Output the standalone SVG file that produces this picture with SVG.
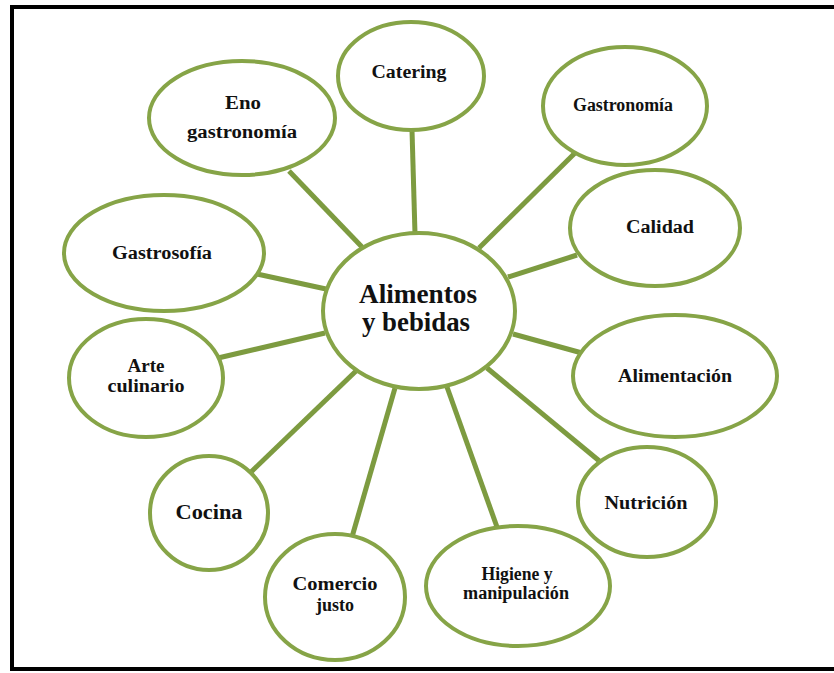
<svg xmlns="http://www.w3.org/2000/svg" width="834" height="673" viewBox="0 0 834 673">
<style>
.n{fill:#fff;stroke:#86a447;stroke-width:4}
.c line{stroke:#7d9b40;stroke-width:5;stroke-linecap:butt}
text{font-family:"Liberation Serif","Times New Roman",serif;font-weight:bold;fill:#111;text-anchor:middle}
.t{font-size:18px}
</style>
<rect x="0" y="0" width="834" height="673" fill="#fff"/>
<path d="M845 7H12V669H845" fill="none" stroke="#000" stroke-width="4"/>
<g class="c" id="connectors">
<line x1="412" y1="130" x2="415" y2="234"/>
<line x1="289" y1="171" x2="362" y2="247"/>
<line x1="576" y1="152" x2="479" y2="248"/>
<line x1="577" y1="255" x2="508" y2="277"/>
<line x1="257" y1="274" x2="326" y2="289"/>
<line x1="218" y1="358" x2="325" y2="333"/>
<line x1="513" y1="334" x2="582" y2="353"/>
<line x1="487" y1="368" x2="603" y2="464"/>
<line x1="356" y1="371" x2="251" y2="472"/>
<line x1="395" y1="388" x2="352" y2="537"/>
<line x1="447" y1="387" x2="497" y2="527"/>
</g>
<g id="catering"><ellipse class="n" cx="411" cy="76" rx="73" ry="54"/><text class="t" x="409" y="78" textLength="75" lengthAdjust="spacingAndGlyphs">Catering</text></g>
<g id="enogastronomia"><ellipse class="n" cx="242" cy="118" rx="93" ry="57"/><text class="t" x="243" y="109" textLength="36" lengthAdjust="spacingAndGlyphs">Eno</text><text class="t" x="242" y="138" textLength="110" lengthAdjust="spacingAndGlyphs">gastronomía</text></g>
<g id="gastronomia"><ellipse class="n" cx="625" cy="106" rx="82" ry="59"/><text class="t" x="623" y="111" textLength="100" lengthAdjust="spacingAndGlyphs">Gastronomía</text></g>
<g id="calidad"><ellipse class="n" cx="655" cy="228" rx="85" ry="58"/><text class="t" x="660" y="233" textLength="68" lengthAdjust="spacingAndGlyphs">Calidad</text></g>
<g id="gastrosofia"><ellipse class="n" cx="164" cy="253" rx="100" ry="58"/><text class="t" x="162" y="259" textLength="100" lengthAdjust="spacingAndGlyphs">Gastrosofía</text></g>
<g id="central"><ellipse class="n" cx="419" cy="311" rx="96" ry="78"/><text x="418" y="303" font-size="27" textLength="118" lengthAdjust="spacingAndGlyphs">Alimentos</text><text x="416" y="331" font-size="27" textLength="108" lengthAdjust="spacingAndGlyphs">y bebidas</text></g>
<g id="arte"><ellipse class="n" cx="146" cy="378" rx="77" ry="59"/><text class="t" x="146" y="372" textLength="37" lengthAdjust="spacingAndGlyphs">Arte</text><text class="t" x="146" y="392" textLength="77" lengthAdjust="spacingAndGlyphs">culinario</text></g>
<g id="alimentacion"><ellipse class="n" cx="675" cy="376" rx="102" ry="61"/><text class="t" x="675" y="382" textLength="114" lengthAdjust="spacingAndGlyphs">Alimentación</text></g>
<g id="cocina"><ellipse class="n" cx="209" cy="513" rx="59" ry="57"/><text x="209" y="519" font-size="22" textLength="67" lengthAdjust="spacingAndGlyphs">Cocina</text></g>
<g id="nutricion"><ellipse class="n" cx="647" cy="502" rx="69" ry="55"/><text class="t" x="646" y="509" textLength="83" lengthAdjust="spacingAndGlyphs">Nutrición</text></g>
<g id="comercio"><ellipse class="n" cx="335" cy="597" rx="70" ry="63"/><text class="t" x="335" y="590" textLength="85" lengthAdjust="spacingAndGlyphs">Comercio</text><text class="t" x="335" y="611" textLength="38" lengthAdjust="spacingAndGlyphs">justo</text></g>
<g id="higiene"><ellipse class="n" cx="518" cy="586" rx="92" ry="60"/><text class="t" x="517" y="580" textLength="71" lengthAdjust="spacingAndGlyphs">Higiene y</text><text class="t" x="516" y="599" textLength="106" lengthAdjust="spacingAndGlyphs">manipulación</text></g>
</svg>
